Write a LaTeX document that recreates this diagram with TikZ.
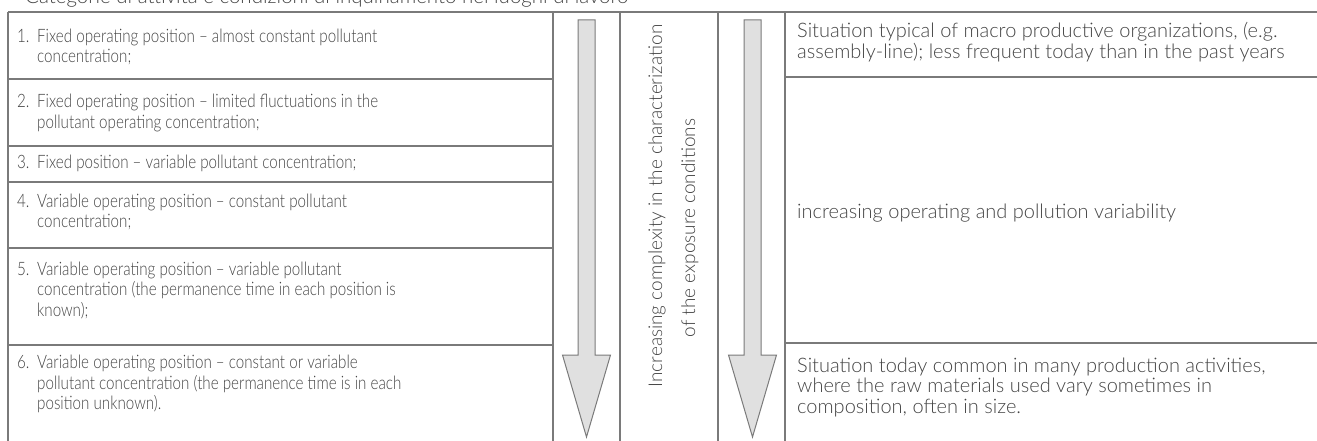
\documentclass[tikz,border=0pt]{standalone}
\usepackage{fontspec}
\setmainfont{Lato}[UprightFont=* Light]
\newfontfamily\leftfont{Lato}[UprightFont=* Light,FakeStretch=0.82,Ligatures=TeX]
\definecolor{linegray}{HTML}{7A7A7A}
\definecolor{textgray}{HTML}{444444}
\definecolor{arrowfill}{HTML}{E0E0E0}
\newlength{\numw}\setlength{\numw}{20pt}
\newcommand{\itemnum}[1]{\makebox[\numw][l]{#1}}
\newcommand{\contline}{\hspace*{\numw}}
\newcommand{\downblock}[1]{% #1 = centre x
  \draw[arrowshape] (#1-8.5,20) -- (#1+8.5,20) -- (#1+8.5,355) -- (#1+24,355)
     -- (#1,437) -- (#1-24,355) -- (#1-8.5,355) -- cycle;}
\begin{document}
\begin{tikzpicture}[x=1pt,y=-1pt,
  gridline/.style={draw=linegray, line width=1.1pt},
  arrowshape/.style={draw=linegray, fill=arrowfill, line width=1pt, line join=miter},
  lefttext/.style={anchor=west, align=left, inner sep=0pt, text=textgray,
     font=\leftfont\fontsize{18.5}{20.5}\selectfont},
  righttext/.style={anchor=west, align=left, inner sep=0pt, text=textgray,
     font=\fontsize{20}{20.5}\selectfont},
  sidetext/.style={rotate=90, inner sep=0pt, text=textgray,
     font=\fontsize{19}{20}\selectfont},
  captiontext/.style={anchor=base west, inner sep=0pt, text=textgray,
     font=\fontsize{20.5}{20}\selectfont}]
\useasboundingbox (0,0) rectangle (1317,441);
% caption (cut at the top)
\node[captiontext] (caption) at (25,4) {Categorie di attività e condizioni di inquinamento nei luoghi di lavoro};
% frame
\draw[gridline] (8,12) -- (1317,12);
\foreach \x in {8,553,620,718,785} \draw[gridline] (\x,12) -- (\x,445);
\foreach \y in {79,146,182,248,345} \draw[gridline] (8,\y) -- (553,\y);
\foreach \y in {77,343} \draw[gridline] (785,\y) -- (1317,\y);
% arrows
\downblock{586.5}
\downblock{752.5}
% left column
\node[lefttext] (r1) at (17,47) {\itemnum{1.}Fixed operating position – almost constant pollutant\\\contline concentration;};
\node[lefttext] (r2) at (17,113) {\itemnum{2.}Fixed operating position – limited fluctuations in the\\\contline pollutant operating concentration;};
\node[lefttext] (r3) at (17,163) {\itemnum{3.}Fixed position – variable pollutant concentration;};
\node[lefttext] (r4) at (17,212) {\itemnum{4.}Variable operating position – constant pollutant\\\contline concentration;};
\node[lefttext] (r5) at (17,290) {\itemnum{5.}Variable operating position – variable pollutant\\\contline concentration (the permanence time in each position is\\\contline known);};
\node[lefttext] (r6) at (17,384) {\itemnum{6.}Variable operating position – constant or variable\\\contline pollutant concentration (the permanence time is in each\\\contline position unknown).};
% rotated text
\node[sidetext] (s1) at (657,206) {Increasing complexity in the characterization};
\node[sidetext] (s2) at (690,228) {of the exposure conditions};
% right column
\node[righttext] (t1) at (797,42) {Situation typical of macro productive organizations, (e.g.\\assembly-line); less frequent today than in the past years};
\node[righttext] (t2) at (797,213) {increasing operating and pollution variability};
\node[righttext] (t3) at (797,387) {Situation today common in many production activities,\\where the raw materials used vary sometimes in\\composition, often in size.};
\end{tikzpicture}
\end{document}
